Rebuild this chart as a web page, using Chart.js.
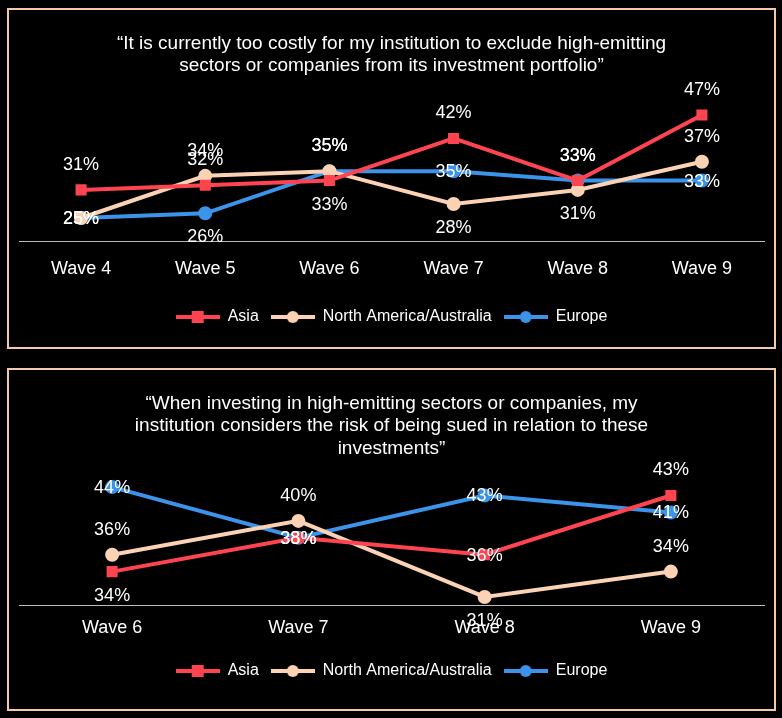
<!DOCTYPE html>
<html><head><meta charset="utf-8">
<script src="https://cdn.jsdelivr.net/npm/chart.js@4/dist/chart.umd.min.js"></script>
<style>
body{margin:0;background:#000;width:782px;height:718px;overflow:hidden;font-family:"Liberation Sans",Arial,sans-serif}
.box{position:absolute;border:2px solid #f2c9aa;box-sizing:border-box}
</style></head><body>
<div class="box" style="left:7px;top:8px;width:769px;height:341px"><canvas id="c1"></canvas></div>
<div class="box" style="left:7px;top:368px;width:769px;height:343px"><canvas id="c2"></canvas></div>
<script>
const waves1 = ['Wave 4', 'Wave 5', 'Wave 6', 'Wave 7', 'Wave 8', 'Wave 9'];
const asia1 = [31, 32, 33, 42, 33, 47];
const nam1 = [25, 34, 35, 28, 31, 37];
const europe1 = [25, 26, 35, 35, 33, 33];
const title1 = ['\u201cIt is currently too costly for my institution to exclude high-emitting', 'sectors or companies from its investment portfolio\u201d'];

const waves2 = ['Wave 6', 'Wave 7', 'Wave 8', 'Wave 9'];
const asia2 = [34, 38, 36, 43];
const nam2 = [36, 40, 31, 34];
const europe2 = [44, 38, 43, 41];
const title2 = ['\u201cWhen investing in high-emitting sectors or companies, my', 'institution considers the risk of being sued in relation to these', 'investments\u201d'];

// label placement per point: a = above, b = below, c = on the point
const pos1 = { asia: 'aabaaa', nam: 'caabba', europe: 'cbacac' };
const pos2 = { asia: 'bcca', nam: 'aaba', europe: 'cccc' };

const RED = '#ff4451', PEACH = '#fcd2b4', BLUE = '#3b93ea';

function legendIcon(color, square) {
  const c = document.createElement('canvas');
  c.width = 44; c.height = 14;
  const g = c.getContext('2d');
  g.strokeStyle = color; g.lineWidth = 4;
  g.beginPath(); g.moveTo(0, 7); g.lineTo(44, 7); g.stroke();
  g.fillStyle = color;
  if (square) g.fillRect(16, 1, 12, 12);
  else { g.beginPath(); g.arc(22, 7, 6, 0, Math.PI * 2); g.fill(); }
  return c;
}

const valueLabels = {
  id: 'valueLabels',
  afterDatasetsDraw(chart) {
    const ctx = chart.ctx;
    ctx.save();
    ctx.font = '18px "Liberation Sans", Arial';
    ctx.fillStyle = '#fff';
    ctx.textAlign = 'center';
    ctx.textBaseline = 'middle';
    chart.data.datasets.forEach((ds, i) => {
      chart.getDatasetMeta(i).data.forEach((p, j) => {
        const where = ds.labelPos[j];
        const dy = where === 'a' ? -25 : where === 'b' ? 24 : 1;
        ctx.fillText(ds.data[j] + '%', p.x, p.y + dy);
      });
    });
    ctx.restore();
  }
};

function makeChart(id, labels, asia, nam, europe, pos, title, min, max, tickPad, bottomPad) {
  const ds = (label, data, color, square, lp) => ({
    label, data, borderColor: color, backgroundColor: color, borderWidth: 4,
    pointStyle: square ? 'rect' : 'circle', pointRadius: 5,
    tension: 0, labelPos: lp, icon: legendIcon(color, square)
  });
  return new Chart(document.getElementById(id), {
    type: 'line',
    data: {
      labels,
      datasets: [
        ds('Asia', asia, RED, true, pos.asia),
        ds('North America/Australia', nam, PEACH, false, pos.nam),
        ds('Europe', europe, BLUE, false, pos.europe)
      ]
    },
    options: {
      responsive: true, maintainAspectRatio: false, animation: false,
      layout: { padding: { left: 10, right: 10, top: 14, bottom: bottomPad } },
      scales: {
        x: { offset: true, grid: { display: false, drawTicks: false }, border: { color: '#bbb', width: 1 },
             ticks: { color: '#fff', font: { size: 18, family: '"Liberation Sans", Arial' }, padding: tickPad } },
        y: { display: false, min, max }
      },
      plugins: {
        title: { display: true, text: title, color: '#fff', font: { size: 19, weight: 'normal', family: '"Liberation Sans", Arial' },
                 padding: { top: 8, bottom: 14 }, lineHeight: 1.2 },
        legend: { position: 'bottom',
          labels: { color: '#fff', font: { size: 16, family: '"Liberation Sans", Arial' }, usePointStyle: true, pointStyleWidth: 44, padding: 12,
            generateLabels: c => c.data.datasets.map((d, i) => ({ text: d.label, pointStyle: d.icon, fontColor: '#fff', datasetIndex: i, lineWidth: 0 })) } },
        tooltip: { enabled: false }
      }
    },
    plugins: [valueLabels]
  });
}

makeChart('c1', waves1, asia1, nam1, europe1, pos1, title1, 20, 52, 17, 12);
makeChart('c2', waves2, asia2, nam2, europe2, pos2, title2, 30, 45.5, 12, 20);
</script>
</body></html>
